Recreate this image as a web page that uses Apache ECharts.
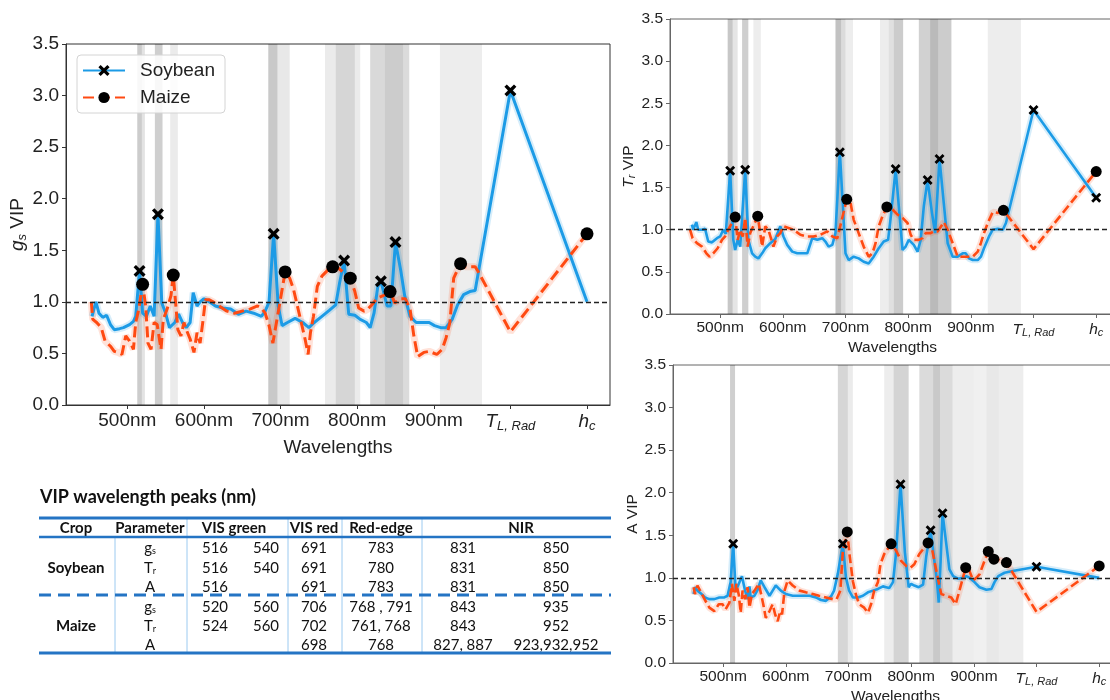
<!DOCTYPE html>
<html>
<head>
<meta charset="utf-8">
<title>VIP spectra</title>
<script src="https://cdn.jsdelivr.net/npm/echarts@6.0.0/dist/echarts.min.js"></script>
<style>
  html, body { margin: 0; padding: 0; background: #fff; }
  #wrap { width: 1110px; height: 700px; }
</style>
</head>
<body>
<div id="wrap"></div>
<script>
// x positions: wavelengths in nm, T_L,Rad is put at 1000 and h_c at 1100
var tickValues = [500, 600, 700, 800, 900, 1000, 1100];
var yTicks = [0, 0.5, 1, 1.5, 2, 2.5, 3, 3.5];

// g_s VIP
var gsSoybean = [[454,0.86],[459,1.0],[463,0.89],[468,0.85],[473,0.87],[478,0.78],[483,0.73],[490,0.74],[495,0.75],[503,0.78],[508,0.81],[511,0.86],[516,1.30],[520,0.89],[525,0.86],[530,0.96],[535,0.86],[540,1.85],[545,0.99],[550,0.89],[555,0.75],[562,0.80],[567,0.88],[572,0.80],[577,0.75],[582,0.80],[586,1.09],[591,0.96],[595,1.0],[600,1.03],[607,1.0],[615,0.96],[625,0.94],[635,0.93],[645,0.88],[655,0.91],[665,0.89],[675,0.86],[680,0.91],[685,1.0],[691,1.66],[697,0.96],[702,0.77],[709,0.80],[719,0.84],[729,0.80],[737,0.75],[744,0.80],[754,0.86],[764,0.92],[772,0.97],[777,1.18],[783,1.40],[789,0.88],[797,0.87],[804,0.83],[812,0.80],[817,0.75],[822,0.89],[827,1.15],[831,1.20],[839,0.96],[844,0.96],[850,1.58],[857,1.30],[862,1.06],[869,0.86],[877,0.80],[884,0.80],[894,0.80],[901,0.77],[909,0.75],[916,0.75],[924,0.83],[931,0.97],[939,1.07],[947,1.10],[954,1.11],[1000,3.05],[1100,1.0]];
var gsMaize = [[453,1.0],[455,0.83],[460,0.80],[466,0.75],[471,0.62],[478,0.57],[483,0.52],[488,0.51],[493,0.49],[498,0.67],[503,0.62],[508,0.54],[511,0.80],[515,0.93],[520,1.17],[524,0.96],[527,0.60],[531,0.54],[535,0.80],[539,0.78],[544,0.54],[547,0.83],[552,0.93],[557,1.06],[560,1.26],[566,0.73],[570,0.67],[574,0.80],[577,0.73],[582,0.64],[587,0.51],[591,0.70],[595,0.60],[599,0.83],[602,1.02],[607,1.02],[612,1.0],[620,0.96],[630,0.91],[640,0.89],[650,0.91],[660,0.93],[670,0.96],[675,0.94],[680,0.89],[685,0.77],[690,0.60],[697,0.90],[706,1.29],[712,1.23],[717,1.12],[722,0.96],[727,0.80],[732,0.64],[736,0.49],[739,0.70],[743,0.86],[748,1.15],[754,1.25],[762,1.31],[768,1.34],[775,1.33],[783,1.28],[791,1.23],[797,1.10],[802,0.94],[809,0.91],[814,0.93],[819,0.97],[827,1.04],[834,1.06],[843,1.10],[849,0.99],[857,1.03],[863,1.03],[869,0.93],[874,0.67],[879,0.47],[887,0.51],[894,0.52],[904,0.49],[911,0.54],[916,0.65],[921,0.80],[926,1.23],[931,1.31],[935,1.37],[941,1.34],[954,1.34],[959,1.28],[1000,0.71],[1100,1.66]];
var gsSoybeanPeaks = [516, 540, 691, 783, 831, 850, 1000];
var gsMaizePeaks = [520, 560, 706, 768, 791, 843, 935, 1100];
var gsBands = [[513,519,0.20],[519,523,0.11],[536,546,0.19],[556,566,0.08],[684,696,0.21],[696,712,0.09],[758,772,0.08],[772,797,0.16],[797,804,0.08],[817,836,0.15],[836,860,0.20],[860,868,0.14],[908,963,0.07]];

// T_r VIP
var trSoybean = [[455,1.06],[457,1.0],[462,1.09],[465,1.0],[471,1.0],[476,1.01],[481,0.86],[487,0.85],[495,0.90],[500,0.92],[505,1.0],[509,0.95],[516,1.70],[521,0.88],[524,0.76],[528,0.88],[532,0.80],[540,1.71],[545,0.88],[551,0.72],[556,0.68],[561,0.66],[567,0.72],[572,0.78],[580,0.84],[588,0.89],[596,1.04],[601,0.92],[607,0.82],[615,0.74],[623,0.72],[631,0.72],[639,0.72],[647,0.90],[655,0.88],[663,0.90],[668,0.86],[673,0.80],[679,0.82],[684,0.96],[691,1.92],[700,0.72],[705,0.64],[713,0.68],[721,0.66],[729,0.62],[737,0.60],[745,0.68],[753,0.78],[761,0.86],[768,0.88],[773,1.20],[780,1.72],[791,0.76],[796,0.80],[801,0.88],[809,0.82],[815,0.74],[820,0.88],[825,1.28],[831,1.59],[838,1.20],[843,0.96],[850,1.84],[857,1.30],[863,0.84],[871,0.68],[879,0.68],[887,0.72],[892,0.72],[897,0.66],[903,0.64],[911,0.64],[916,0.68],[921,0.78],[929,0.92],[935,1.0],[943,1.01],[951,1.0],[956,1.08],[1000,2.42],[1100,1.38]];
var trMaize = [[452,1.0],[456,0.90],[463,0.84],[471,0.80],[478,0.72],[483,0.68],[489,0.72],[496,0.78],[503,0.88],[508,0.92],[513,1.0],[524,1.15],[528,0.88],[532,1.0],[536,0.92],[540,1.14],[544,0.80],[548,0.96],[560,1.16],[567,0.80],[572,1.04],[577,1.0],[585,0.80],[591,0.92],[596,0.96],[601,1.04],[609,1.02],[617,1.0],[628,0.94],[639,0.92],[649,0.92],[660,0.94],[671,0.98],[679,0.92],[687,0.90],[702,1.36],[708,1.32],[713,1.12],[721,0.96],[729,0.80],[737,0.68],[743,0.72],[748,0.84],[753,1.04],[759,1.16],[766,1.27],[775,1.24],[783,1.18],[791,1.14],[799,1.08],[804,0.94],[809,0.88],[817,0.88],[823,0.90],[828,0.96],[836,0.96],[841,0.98],[847,0.98],[857,1.09],[863,1.0],[873,0.80],[879,0.68],[887,0.68],[895,0.68],[903,0.68],[911,0.74],[916,0.84],[921,0.96],[927,1.08],[935,1.21],[943,1.20],[952,1.23],[1000,0.77],[1100,1.69]];
var trSoybeanPeaks = [516, 540, 691, 780, 831, 850, 1000, 1100];
var trMaizePeaks = [524, 560, 702, 766, 952, 1100];
var trBands = [[512,520,0.22],[520,528,0.10],[535,545,0.19],[553,565,0.07],[684,693,0.24],[693,700,0.14],[700,712,0.07],[755,769,0.07],[769,777,0.12],[777,792,0.20],[817,835,0.18],[835,848,0.27],[848,869,0.20],[927,980,0.07]];

// A VIP
var aSoybean = [[453,0.81],[455,0.89],[459,0.85],[464,0.82],[471,0.77],[478,0.75],[486,0.75],[494,0.77],[502,0.77],[507,0.79],[512,0.95],[516,1.40],[520,0.85],[525,0.93],[530,1.02],[535,0.85],[539,0.75],[542,0.90],[544,0.77],[550,0.79],[555,0.86],[560,0.97],[566,0.89],[574,0.79],[579,0.85],[584,0.91],[592,0.85],[600,0.81],[611,0.79],[622,0.79],[638,0.79],[648,0.77],[656,0.74],[664,0.73],[672,0.78],[677,0.85],[683,1.05],[691,1.40],[696,1.00],[701,0.85],[707,0.77],[715,0.77],[723,0.79],[731,0.83],[739,0.85],[747,0.87],[755,0.90],[760,0.89],[765,0.88],[771,0.95],[776,1.30],[783,2.10],[790,1.30],[796,0.89],[800,0.93],[805,0.91],[812,0.89],[819,0.92],[824,1.25],[831,1.56],[837,1.20],[841,0.98],[844,0.71],[847,1.20],[850,1.76],[856,1.40],[861,1.10],[867,1.02],[875,0.99],[883,1.0],[888,1.02],[893,1.0],[901,0.95],[909,0.89],[920,0.86],[928,0.87],[933,0.95],[939,1.02],[949,1.06],[962,1.08],[1000,1.13],[1100,1.0]];
var aMaize = [[453,0.89],[455,0.81],[459,0.91],[464,0.84],[471,0.74],[478,0.65],[486,0.61],[493,0.69],[499,0.69],[504,0.63],[510,0.71],[514,0.93],[518,0.73],[521,0.93],[525,0.80],[528,0.59],[531,0.85],[535,0.75],[539,0.89],[542,0.65],[546,0.81],[550,0.85],[557,0.93],[560,0.93],[564,0.69],[568,0.53],[574,0.61],[579,0.69],[583,0.57],[587,0.49],[591,0.61],[594,0.57],[598,0.85],[603,0.97],[611,0.91],[622,0.85],[632,0.83],[643,0.81],[653,0.79],[664,0.77],[675,0.75],[681,0.75],[687,0.85],[691,1.32],[698,1.54],[702,1.25],[707,0.96],[712,0.80],[717,0.69],[725,0.65],[731,0.59],[736,0.69],[741,0.85],[747,0.95],[751,1.16],[757,1.28],[768,1.40],[776,1.32],[784,1.20],[792,1.14],[799,1.12],[805,1.16],[813,1.28],[827,1.41],[833,1.35],[837,1.20],[843,0.98],[848,0.81],[856,0.79],[864,0.77],[871,0.69],[877,0.85],[887,1.12],[893,1.08],[899,0.97],[904,1.0],[909,1.04],[917,1.20],[923,1.31],[932,1.22],[941,1.21],[952,1.18],[1000,0.60],[1100,1.14]];
var aSoybeanPeaks = [516, 691, 783, 831, 850, 1000];
var aMaizePeaks = [698, 768, 827, 887, 923, 932, 952, 1100];
var aBands = [[511,519,0.19],[683,699,0.16],[699,707,0.08],[757,772,0.07],[772,796,0.17],[813,835,0.14],[835,846,0.21],[846,866,0.14],[866,900,0.07],[900,920,0.06],[920,940,0.09],[940,979,0.07]];

// table of peak wavelengths
var tableTitle = 'VIP wavelength peaks (nm)';
var tableHeader = ['Crop', 'Parameter', 'VIS green', 'VIS red', 'Red-edge', 'NIR'];
var tableCrops = ['Soybean', 'Maize'];
var tableParams = ['gs', 'Tr', 'A'];
var tableRows = [
  ['516', '540', '691', '783', '831', '850'],
  ['516', '540', '691', '780', '831', '850'],
  ['516', '', '691', '783', '831', '850'],
  ['520', '560', '706', '768 , 791', '843', '935'],
  ['524', '560', '702', '761, 768', '843', '952'],
  ['', '', '698', '768', '827, 887', '923,932,952']
];

var FONT = 'Liberation Sans';
var BLUE = '#1c9be6';
var ORANGE = '#ff4a12';
var TBLUE = '#2474c4';
var XMARK = 'path://M2,0 L5,3 L8,0 L10,2 L7,5 L10,8 L8,10 L5,7 L2,10 L0,8 L3,5 L0,2 Z';

var myChart = echarts.init(document.getElementById('wrap'), null, {renderer: 'canvas'});

// one panel = grid + axes, the sizes differ between the big and the small panels
var panels = [
  {grid: {left: 66, top: 44, width: 544, height: 361}, font: 19, sub: 13, axisColor: '#333', name: '{i|g}{s|s}{n| VIP}', nameGap: 35, xGap: 26, lw: 3, dash: [11, 5], xs: 12, cs: 13,
   soy: gsSoybean, maize: gsMaize, soyPeaks: gsSoybeanPeaks, maizePeaks: gsMaizePeaks, bands: gsBands},
  {grid: {left: 670, top: 19, width: 445, height: 295}, font: 15.5, sub: 11, axisColor: '#666', name: '{i|T}{s|r}{n| VIP}', nameGap: 29, xGap: 20, lw: 2.6, dash: [9, 4], xs: 10, cs: 11,
   soy: trSoybean, maize: trMaize, soyPeaks: trSoybeanPeaks, maizePeaks: trMaizePeaks, bands: trBands},
  {grid: {left: 673, top: 365, width: 445, height: 298}, font: 15.5, sub: 11, axisColor: '#666', name: '{n|A VIP}', nameGap: 30, xGap: 18, lw: 2.6, dash: [9, 4], xs: 10, cs: 11,
   soy: aSoybean, maize: aMaize, soyPeaks: aSoybeanPeaks, maizePeaks: aMaizePeaks, bands: aBands}
];

function richFor(p){
  return {
    i: {fontStyle: 'italic', fontSize: p.font, fontFamily: FONT, color: '#222', lineHeight: p.font + 3},
    s: {fontStyle: 'italic', fontSize: p.sub, fontFamily: FONT, color: '#222', lineHeight: p.sub, verticalAlign: 'bottom'},
    n: {fontSize: p.font, fontFamily: FONT, color: '#222', lineHeight: p.font + 3}
  };
}

function pickPeaks(curve, peaks){
  return curve.filter(function(d){ return peaks.indexOf(d[0]) >= 0; });
}

var grids = [], xAxes = [], yAxes = [], series = [];
panels.forEach(function(p, k){
  grids.push({left: p.grid.left, top: p.grid.top, width: p.grid.width, height: p.grid.height,
    show: true, borderColor: p.axisColor, borderWidth: 1, backgroundColor: 'transparent', containLabel: false, outerBoundsMode: 'none'});
  xAxes.push({
    type: 'value', gridIndex: k, min: 420, max: 1130,
    name: 'Wavelengths', nameLocation: 'middle', nameGap: p.xGap,
    nameTextStyle: {fontSize: p.font, fontFamily: FONT, color: '#222'},
    splitLine: {show: false},
    axisLine: {lineStyle: {color: p.axisColor}},
    axisTick: {show: true, length: 4, customValues: tickValues, lineStyle: {color: p.axisColor}},
    axisLabel: {
      customValues: tickValues, margin: 6, fontSize: p.font, fontFamily: FONT, color: '#222',
      rich: richFor(p),
      formatter: function(v){
        if (v === 1000) return '{i|T}{s|L, Rad}';
        if (v === 1100) return '{i|h}{s|c}';
        return v + 'nm';
      }
    }
  });
  yAxes.push({
    type: 'value', gridIndex: k, min: 0, max: 3.5, interval: 0.5,
    name: p.name, nameLocation: 'middle', nameGap: p.nameGap, nameRotate: 90,
    nameTextStyle: {rich: richFor(p)},
    splitLine: {show: false},
    axisLine: {show: true, lineStyle: {color: p.axisColor}},
    axisTick: {show: true, length: 4, lineStyle: {color: p.axisColor}},
    axisLabel: {margin: 7, fontSize: p.font, fontFamily: FONT, color: '#222', formatter: function(v){ return v.toFixed(1); }}
  });

  // shaded wavelength bands and the VIP = 1 line, under everything
  series.push({
    name: 'bands' + k, type: 'line', xAxisIndex: k, yAxisIndex: k, z: 1, silent: true,
    data: p.soy, symbol: 'none', lineStyle: {opacity: 0}, animation: false,
    markArea: {silent: true, data: p.bands.map(function(b){
      return [{xAxis: b[0], itemStyle: {color: 'rgba(0,0,0,' + b[2] + ')'}}, {xAxis: b[1]}];
    })},
    markLine: {silent: true, symbol: 'none', label: {show: false},
      lineStyle: {color: '#222', type: [5, 3], width: 1.4}, data: [{yAxis: 1}]}
  });
  // soft halo round the lines
  series.push({name: 'soyHalo' + k, type: 'line', xAxisIndex: k, yAxisIndex: k, z: 2, silent: true, data: p.soy,
    symbol: 'none', lineStyle: {color: 'rgba(28,155,230,0.18)', width: p.lw + 4}, animation: false});
  series.push({name: 'maizeHalo' + k, type: 'line', xAxisIndex: k, yAxisIndex: k, z: 2, silent: true, data: p.maize,
    symbol: 'none', lineStyle: {color: 'rgba(255,74,18,0.16)', width: p.lw + 4}, animation: false});

  series.push({name: 'Soybean', type: 'line', xAxisIndex: k, yAxisIndex: k, z: 3, data: p.soy,
    symbol: XMARK, symbolSize: 13, showSymbol: false, itemStyle: {color: '#000'},
    lineStyle: {color: BLUE, width: p.lw}, animation: false});
  series.push({name: 'Maize', type: 'line', xAxisIndex: k, yAxisIndex: k, z: 3, data: p.maize,
    symbol: 'circle', symbolSize: 14, showSymbol: false, itemStyle: {color: '#000'},
    lineStyle: {color: ORANGE, width: p.lw, type: p.dash}, animation: false});

  // markers on the peaks
  series.push({name: 'soyPeaks' + k, type: 'scatter', xAxisIndex: k, yAxisIndex: k, z: 4,
    data: pickPeaks(p.soy, p.soyPeaks), symbol: XMARK, symbolSize: p.xs, itemStyle: {color: '#000', opacity: 1}, animation: false});
  series.push({name: 'maizePeaks' + k, type: 'scatter', xAxisIndex: k, yAxisIndex: k, z: 4,
    data: pickPeaks(p.maize, p.maizePeaks), symbol: 'circle', symbolSize: p.cs, itemStyle: {color: '#000', opacity: 1}, animation: false});
});

// the table is drawn as graphic elements
var colX = [215, 266, 314, 381, 463, 556];
var headX = [76, 150, 234, 314, 381, 521];
var rowY = [548, 568, 587, 607, 626, 645];
var TFONT = 'Lato';
var graphics = [];
graphics.push({type: 'text', left: 40, top: 488, style: {text: tableTitle, font: 'bold 18px ' + TFONT, fill: '#111'}});
[[518, 3, null], [537, 2.5, null], [595, 3, [12, 7]], [653, 3, null]].forEach(function(l){
  graphics.push({type: 'line', shape: {x1: 39, y1: l[0], x2: 611, y2: l[0]},
    style: {stroke: TBLUE, lineWidth: l[1], lineDash: l[2]}, z: 1});
});
[[115, 537], [187, 518], [288, 518], [342, 518], [422, 518]].forEach(function(v){
  graphics.push({type: 'line', shape: {x1: v[0], y1: v[1], x2: v[0], y2: 652},
    style: {stroke: '#9ccaf0', lineWidth: 1}, z: 0});
});
tableHeader.forEach(function(h, i){
  graphics.push({type: 'text', x: headX[i], y: 528, style: {text: h, font: 'bold 15px ' + TFONT, fill: '#111', align: 'center', verticalAlign: 'middle'}});
});
tableCrops.forEach(function(c, i){
  graphics.push({type: 'text', x: 76, y: rowY[i * 3 + 1], style: {text: c, font: 'bold 15px ' + TFONT, fill: '#111', align: 'center', verticalAlign: 'middle'}});
});
var paramRich = {
  m: {font: '15px ' + TFONT, fill: '#111'},
  s: {font: '9px ' + TFONT, fill: '#111', verticalAlign: 'bottom', lineHeight: 9}
};
tableRows.forEach(function(r, i){
  var p = tableParams[i % 3];
  var label = p.length > 1 ? '{m|' + p[0] + '}{s|' + p[1] + '}' : '{m|' + p + '}';
  graphics.push({type: 'text', x: 150, y: rowY[i], style: {text: label, rich: paramRich, align: 'center', verticalAlign: 'middle'}});
  r.forEach(function(v, j){
    if (!v) return;
    graphics.push({type: 'text', x: colX[j], y: rowY[i], style: {text: v, font: '15px ' + TFONT, fill: '#111', align: 'center', verticalAlign: 'middle'}});
  });
});

var option = {
  backgroundColor: '#fff',
  animation: false,
  legend: {
    data: ['Soybean', 'Maize'], orient: 'vertical', left: 77, top: 55,
    itemWidth: 42, itemHeight: 14, itemGap: 8, padding: [6, 10, 6, 5],
    borderColor: '#d4d4d4', borderWidth: 1, borderRadius: 4, backgroundColor: 'rgba(255,255,255,0.85)',
    textStyle: {fontSize: 19, fontFamily: FONT, color: '#222', padding: [0, 0, 0, 10]}
  },
  grid: grids,
  xAxis: xAxes,
  yAxis: yAxes,
  series: series,
  graphic: graphics
};
myChart.setOption(option);
</script>
</body>
</html>
